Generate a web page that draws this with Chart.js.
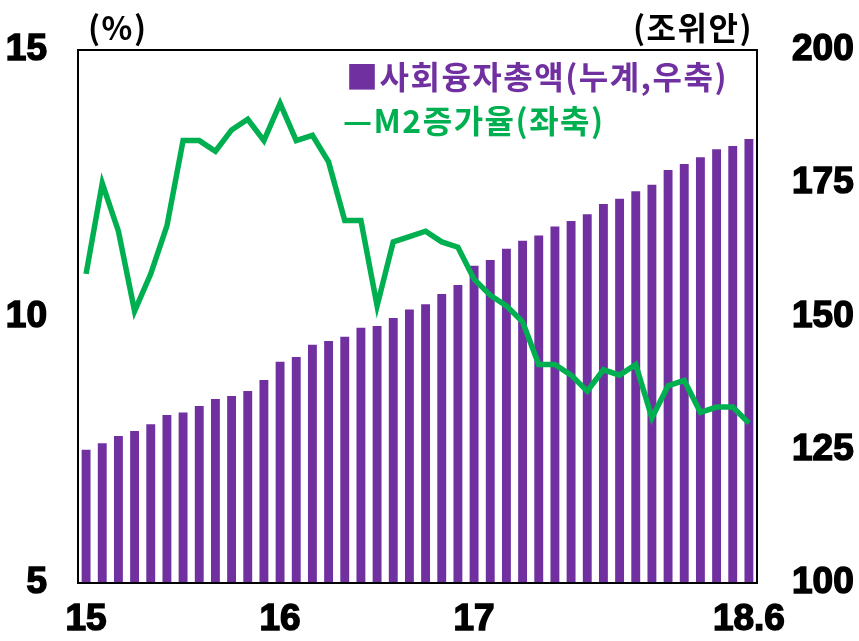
<!DOCTYPE html>
<html>
<head>
<meta charset="utf-8">
<script src="https://cdn.jsdelivr.net/npm/chart.js@4.4.1/dist/chart.umd.min.js"></script>
<style>
  html, body { margin: 0; padding: 0; background: #fff; }
  #wrap { position: relative; width: 859px; height: 641px; }
  .txt { position: absolute; white-space: nowrap; font-family: "Noto Sans CJK KR", "Liberation Sans", sans-serif; font-weight: bold; line-height: 40px; letter-spacing: 1.5px; }
</style>
</head>
<body>
<div id="wrap">
  <canvas id="chartCombo" width="859" height="641"></canvas>
  <div class="txt" id="unitLeft" style="left:88px; top:6px; font-size:32px; color:#000;">(%)</div>
  <div class="txt" id="unitRight" style="left:633px; top:6px; font-size:32px; color:#000;">(조위안)</div>
  <div class="txt" id="legBar" style="left:346px; top:55px; font-size:32px; color:#7030A0;">■사회융자총액(누계,우축)</div>
  <div class="txt" id="legLine" style="left:343px; top:99px; font-size:32px; color:#00B050;">—M2증가율(좌축)</div>
</div>
<script>
// DATA --------------------------- 2015.1 ~ 2018.6 monthly
var months = [
  "15.1","15.2","15.3","15.4","15.5","15.6","15.7","15.8","15.9","15.10","15.11","15.12",
  "16.1","16.2","16.3","16.4","16.5","16.6","16.7","16.8","16.9","16.10","16.11","16.12",
  "17.1","17.2","17.3","17.4","17.5","17.6","17.7","17.8","17.9","17.10","17.11","17.12",
  "18.1","18.2","18.3","18.4","18.5","18.6"
];
// 사회융자총액 누계 (조위안, right axis)
var creditTotal = [
  125.0,126.2,127.6,128.5,129.8,131.5,132.0,133.2,134.5,135.1,136.0,138.1,
  141.5,142.4,144.7,145.4,146.2,147.9,148.2,149.7,151.3,152.3,154.2,155.9,
  159.5,160.6,162.7,164.2,165.2,166.9,167.9,169.2,171.1,172.1,173.5,174.7,
  177.5,178.6,179.9,181.4,182.0,183.3
];
// M2 증가율 (%, left axis)
var m2Growth = [
  10.8,12.5,11.6,10.1,10.8,11.7,13.3,13.3,13.1,13.5,13.7,13.3,
  14.0,13.3,13.4,12.9,11.8,11.8,10.2,11.4,11.5,11.6,11.4,11.3,
  10.7,10.4,10.2,9.9,9.1,9.1,8.9,8.6,9.0,8.9,9.1,8.1,
  8.7,8.8,8.2,8.3,8.3,8.0
];
// x tick labels shown only at these months
var xTickLabels = { "15.1": "15", "16.1": "16", "17.1": "17", "18.6": "18.6" };
var leftTicks = [5, 10, 15];
var rightTicks = [100, 125, 150, 175, 200];

// FRAME AROUND PLOT AREA
var frameBox = {
  id: "frameBox",
  afterDatasetsDraw: function(chart) {
    var a = chart.chartArea;
    var ctx = chart.ctx;
    ctx.save();
    ctx.strokeStyle = "#000";
    ctx.lineWidth = 2;
    ctx.strokeRect(a.left, a.top, a.right - a.left, a.bottom - a.top);
    ctx.restore();
  }
};

var tickFont = { family: "'Liberation Sans', Arial, sans-serif", size: 37, weight: "bold" };

// fixed axis sizes so the plot box sits where the original one does
function fitY(w) {
  return function(s) { s.width = w; s.paddingTop = 0; s.paddingBottom = 0; };
}

const comboData = {
  labels: months,
  datasets: [
    {
      type: "line",
      label: "M2증가율(좌축)",
      data: m2Growth,
      yAxisID: "y",
      borderColor: "#00B050",
      borderWidth: 5.5,
      pointRadius: 0,
      tension: 0,
      order: 0
    },
    {
      type: "bar",
      label: "사회융자총액(누계,우축)",
      data: creditTotal,
      yAxisID: "y1",
      backgroundColor: "#7030A0",
      barPercentage: 0.55,
      categoryPercentage: 1.0,
      order: 1
    }
  ]
};

const configCombo = {
  data: comboData,
  plugins: [frameBox],
  options: {
    responsive: false,
    animation: false,
    layout: { padding: { top: 50, left: 0, right: 0, bottom: 0 } },
    plugins: { legend: { display: false }, tooltip: { enabled: false } },
    scales: {
      x: {
        grid: { display: false, drawTicks: false },
        border: { display: false },
        afterFit: function(s) { s.height = 58; s.paddingLeft = 0; s.paddingRight = 0; },
        ticks: {
          autoSkip: false, maxRotation: 0, padding: 15,
          color: "#000", font: tickFont, textStrokeColor: "#000", textStrokeWidth: 1.5,
          callback: function(v) { return xTickLabels[months[v]] || ""; }
        }
      },
      y: {
        position: "left",
        min: leftTicks[0], max: leftTicks[leftTicks.length - 1],
        grid: { display: false, drawTicks: false },
        border: { display: false },
        afterFit: fitY(78),
        afterBuildTicks: function(s) { s.ticks = leftTicks.map(function(v) { return { value: v }; }); },
        ticks: { padding: 31, color: "#000", font: tickFont, textStrokeColor: "#000", textStrokeWidth: 1.5 }
      },
      y1: {
        position: "right",
        min: rightTicks[0], max: rightTicks[rightTicks.length - 1],
        grid: { display: false, drawTicks: false },
        border: { display: false },
        afterFit: fitY(102),
        afterBuildTicks: function(s) { s.ticks = rightTicks.map(function(v) { return { value: v }; }); },
        ticks: { padding: 35, color: "#000", font: tickFont, textStrokeColor: "#000", textStrokeWidth: 1.5 }
      }
    }
  }
};

var chartCombo = new Chart(document.getElementById("chartCombo"), configCombo);
</script>
</body>
</html>
